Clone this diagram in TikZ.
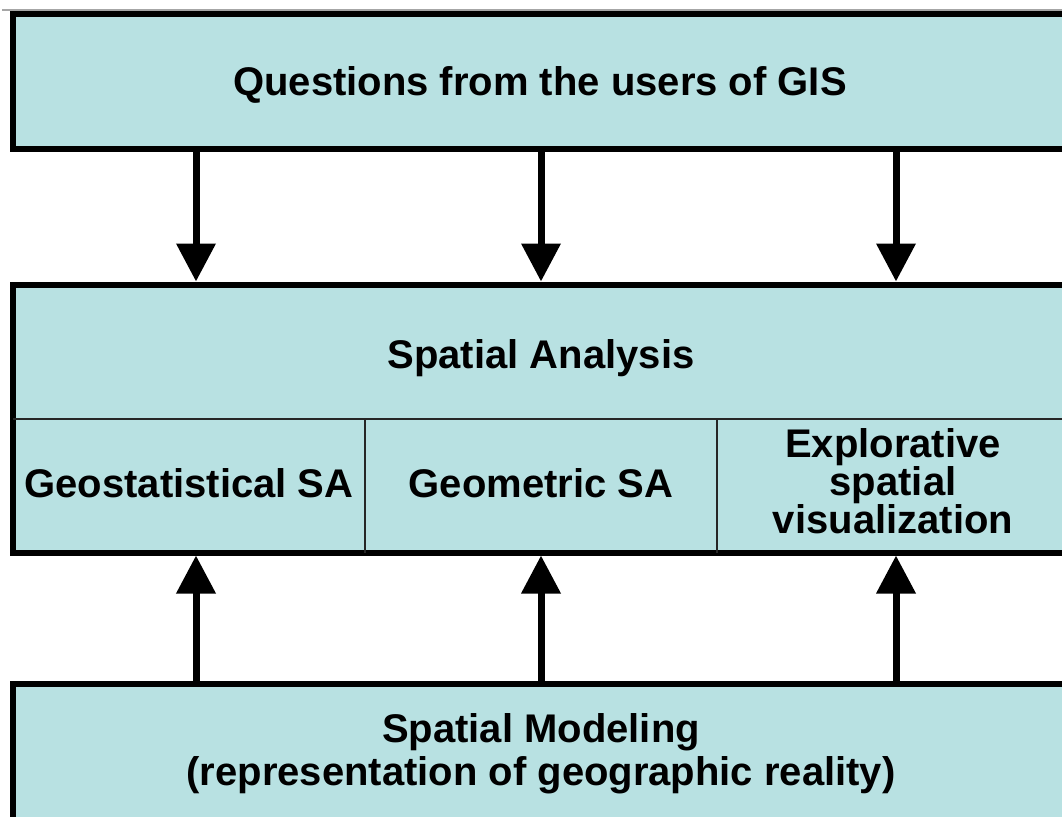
\documentclass[tikz,border=0pt]{standalone}
\usepackage{fontspec}
\setmainfont{Liberation Sans}
\usetikzlibrary{arrows.meta}
\definecolor{boxfill}{RGB}{184,225,226}
\tikzset{
  box/.style={draw=black, fill=boxfill, line width=6pt, outer sep=0pt, inner sep=0pt},
  lbl/.style={anchor=base, inner sep=0pt, font=\fontsize{40}{40}\selectfont\bfseries},
  conn/.style={line width=7pt, -{Triangle[width=38pt,length=38pt]}, shorten >=3pt},
  divider/.style={draw=black!85, line width=2pt}
}
\begin{document}
\begin{tikzpicture}[x=1pt,y=-1pt]
\clip (0,0) rectangle (1062,816);
\fill[white] (0,0) rectangle (1062,816);
\coordinate (g0) at (2,10);
\coordinate (g1) at (1062,10);
\draw[black!35, line width=1.5pt] (g0) -- (g1);
% boxes
\node[box, minimum width=1067pt, minimum height=134.5pt] (q) at (546.5,81.75) {};
\node[box, minimum width=1067pt, minimum height=268pt] (sa) at (546.5,418.5) {};
\node[box, minimum width=1067pt, minimum height=156pt] (sm) at (546.5,762) {};
% dividers
\coordinate (d) at (0,419);
\coordinate (v1) at (365,419);
\coordinate (v2) at (717,419);
\draw[divider] (sa.west |- d) -- (sa.east |- d);
\draw[divider] (v1) -- (v1 |- sa.south);
\draw[divider] (v2) -- (v2 |- sa.south);
% texts
\node[lbl] (tq) at (540,95) {Questions from the users of GIS};
\node[lbl] (tsa) at (541,368) {Spatial Analysis};
\node[lbl] (tg1) at (189,497) {Geostatistical SA};
\node[lbl] (tg2) at (541,497) {Geometric SA};
\node[inner sep=0pt, align=center, font=\fontsize{40}{33}\selectfont\bfseries, anchor=center] (te) at (893,481) {Explorative\\spatial\\visualization};
\node[lbl] (tm1) at (541,742) {Spatial Modeling};
\node[lbl] (tm2) at (541,785) {(representation of geographic reality)};
% arrows
\coordinate (a1) at (196,0);
\coordinate (a2) at (541,0);
\coordinate (a3) at (896,0);
\draw[conn] (q.south -| a1) -- (sa.north -| a1);
\draw[conn] (q.south -| a2) -- (sa.north -| a2);
\draw[conn] (q.south -| a3) -- (sa.north -| a3);
\draw[conn] (sm.north -| a1) -- (sa.south -| a1);
\draw[conn] (sm.north -| a2) -- (sa.south -| a2);
\draw[conn] (sm.north -| a3) -- (sa.south -| a3);
\end{tikzpicture}
\end{document}
